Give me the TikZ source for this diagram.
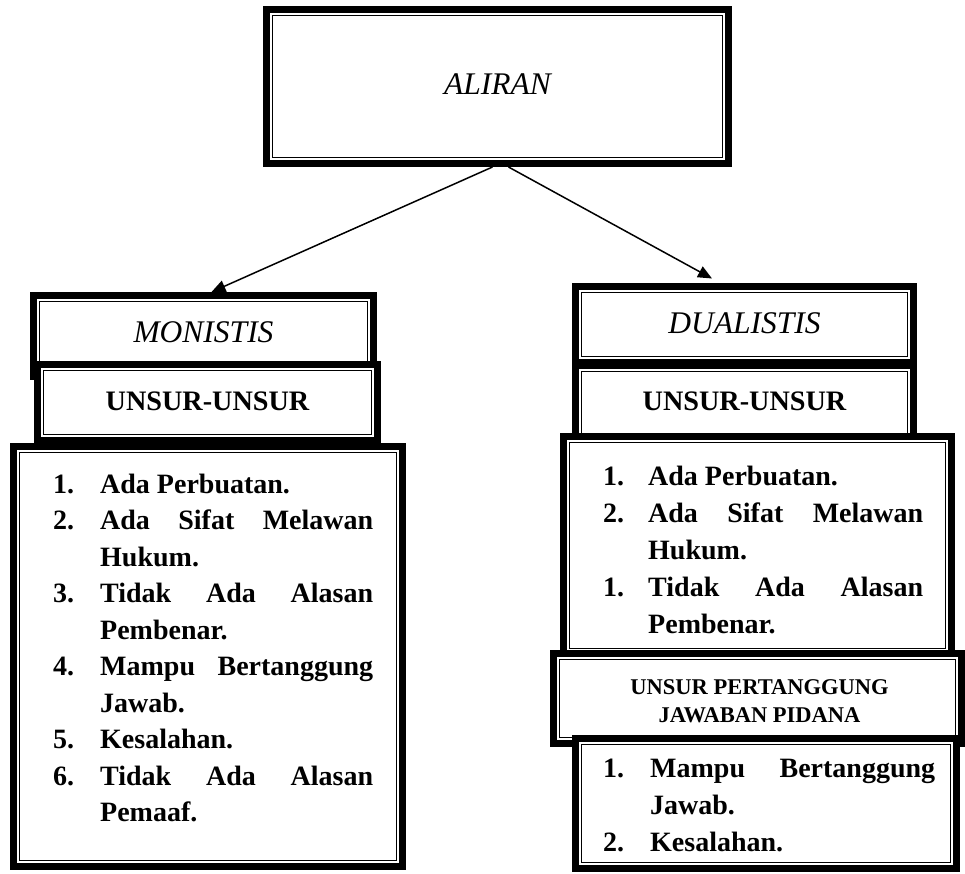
\documentclass[tikz,border=0pt]{standalone}
\usepackage{fontspec}
\setmainfont{Liberation Serif}
\usetikzlibrary{arrows.meta}
\tikzset{
  frame/.style={rectangle, draw=black, line width=7pt, fill=white, inner sep=0pt, outer sep=0pt},
  innerline/.style={line width=1.4pt},
  conn/.style={line width=1.5pt, -{Triangle[length=14pt,width=12pt]}},
  lbl/.style={inner sep=0pt, anchor=base, font=\fontsize{31.5}{36}\selectfont\itshape},
  hdr/.style={inner sep=0pt, anchor=base, font=\fontsize{28.2}{34}\selectfont\bfseries},
  smallhdr/.style={inner sep=0pt, anchor=base, font=\fontsize{22.5}{28.5}\selectfont\bfseries},
  listl/.style={inner sep=0pt, anchor=base west, font=\fontsize{28}{36.5}\selectfont\bfseries},
  listr/.style={inner sep=0pt, anchor=base west, font=\fontsize{28}{37}\selectfont\bfseries},
}
\newcommand\tbox[5]{%
  \node[frame, minimum width={#4-#2-7}, minimum height={#5-#3-7}] (#1) at ({(#2+#4)/2},{(#3+#5)/2}) {};
  \draw[innerline] ([shift={(6.2pt,-6.2pt)}]#1.north west) rectangle ([shift={(-6.2pt,6.2pt)}]#1.south east);
}
\begin{document}
\begin{tikzpicture}[x=1pt,y=-1pt]
\useasboundingbox[fill=white] (0,0) rectangle (965,874);

% top box
\tbox{aliran}{263}{6}{732}{167}
\node[lbl] (taliran) at (497.5,95) {ALIRAN};

% left column
\tbox{monistis}{30}{292}{377}{380}
\node[lbl] (tmonistis) at (203.5,342) {MONISTIS};
\tbox{unsurl}{34}{361}{381}{444}
\node[hdr] (tunsurl) at (207.5,410) {UNSUR-UNSUR};
\tbox{listl}{10}{443}{406}{870}
\node[listl] (tlistl) at (53,493) {\begin{tabular}[t]{@{}p{47pt}@{}p{273pt}@{}}
1.& Ada Perbuatan.\\
2.& \makebox[273pt][s]{Ada Sifat Melawan}\\
  & Hukum.\\
3.& \makebox[273pt][s]{Tidak Ada Alasan}\\
  & Pembenar.\\
4.& \makebox[273pt][s]{Mampu Bertanggung}\\
  & Jawab.\\
5.& Kesalahan.\\
6.& \makebox[273pt][s]{Tidak Ada Alasan}\\
  & Pemaaf.
\end{tabular}};

% right column
\tbox{dualistis}{572}{283}{917}{366}
\node[lbl] (tdualistis) at (744.5,333) {DUALISTIS};
\tbox{unsurr}{572}{362}{917}{443}
\node[hdr] (tunsurr) at (744.5,410) {UNSUR-UNSUR};
\tbox{listr}{560}{433}{955}{658}
\node[listr] (tlistr) at (603,485) {\begin{tabular}[t]{@{}p{45pt}@{}p{275pt}@{}}
1.& Ada Perbuatan.\\
2.& \makebox[275pt][s]{Ada Sifat Melawan}\\
  & Hukum.\\
1.& \makebox[275pt][s]{Tidak Ada Alasan}\\
  & Pembenar.
\end{tabular}};
\tbox{pert}{550}{650}{965}{747}
\node[smallhdr] (tpert) at (759.5,694) {\begin{tabular}[t]{@{}c@{}}UNSUR PERTANGGUNG\\JAWABAN PIDANA\end{tabular}};
\tbox{listr2}{572}{735}{960}{872}
\node[listr] (tlistr2) at (603,777) {\begin{tabular}[t]{@{}p{47pt}@{}p{285pt}@{}}
1.& \makebox[285pt][s]{Mampu Bertanggung}\\
  & Jawab.\\
2.& Kesalahan.
\end{tabular}};

% connectors
\draw[conn] ([xshift=-5pt,yshift=-3.5pt]aliran.south) -- ([xshift=8pt,yshift=3.5pt]monistis.north);
\draw[conn] ([xshift=11pt,yshift=-3.5pt]aliran.south) -- ([xshift=-32.5pt,yshift=8pt]dualistis.north);
\end{tikzpicture}
\end{document}
